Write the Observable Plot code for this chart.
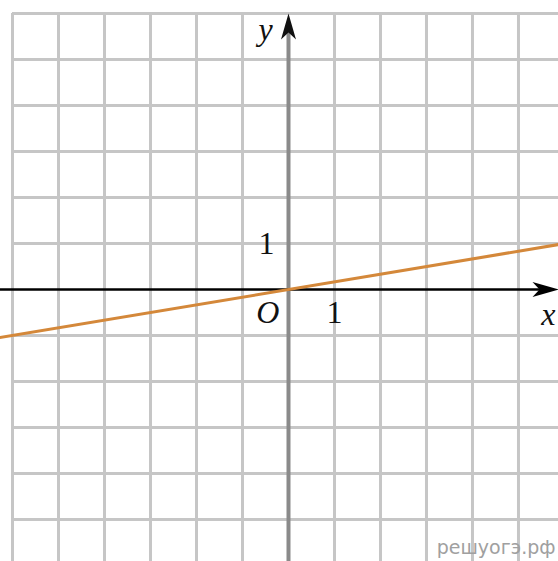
<!DOCTYPE html>
<html>
<head>
<meta charset="utf-8">
<script src="https://cdn.jsdelivr.net/npm/d3@7"></script>
<script src="https://cdn.jsdelivr.net/npm/@observablehq/plot@0.6"></script>
<style>
  html, body { margin: 0; padding: 0; background: #fff; }
  #chart svg { display: block; }
</style>
</head>
<body>
<div id="chart"></div>
<script>
// Grid values (units)
const gridX = [-6, -5, -4, -3, -2, -1, 1, 2, 3, 4, 5];
const gridY = [-5, -4, -3, -2, -1, 1, 2, 3, 4, 5, 6];
// Graph of y = x/6 (endpoints)
const lineX = [-6.3, 5.9];
const lineY = [-1.05, 0.983];
// Axis arrow tips
const xArrowTip = [5.87, 0];
const yArrowTip = [0, 6.0];
// Labels
const labels = [
  {x: -0.48, y: 1, text: "1", italic: false},
  {x: 1, y: -0.5, text: "1", italic: false},
  {x: -0.45, y: -0.5, text: "O", italic: true},
  {x: -0.5, y: 5.65, text: "y", italic: true},
  {x: 5.65, y: -0.55, text: "x", italic: true}
];
const watermark = "решуогэ.рф";

const xDomain = [-6.261, 5.870];
const yDomain = [-5.913, 6.283];
const linePts = lineX.map((x, i) => ({x, y: lineY[i]}));

const arrowSymbol = {
  draw(ctx) {
    ctx.moveTo(0, 0);
    ctx.lineTo(7.5, 26);
    ctx.lineTo(0, 19);
    ctx.lineTo(-7.5, 26);
    ctx.closePath();
  }
};

const chart = Plot.plot({
  width: 558,
  height: 561,
  margin: 0,
  x: {domain: xDomain, axis: null},
  y: {domain: yDomain, axis: null},
  marks: [
    Plot.ruleX(gridX, {y1: yDomain[0], y2: gridY[gridY.length - 1], stroke: "#c6c6c6", strokeWidth: 3}),
    Plot.ruleY(gridY, {x1: gridX[0], x2: xDomain[1], stroke: "#c6c6c6", strokeWidth: 3}),
    Plot.ruleX([0], {y1: yDomain[0], y2: 5.6, stroke: "#8a8a8a", strokeWidth: 4}),
    Plot.ruleY([0], {x1: xDomain[0], x2: 5.5, stroke: "#000", strokeWidth: 2.6}),
    Plot.dot([yArrowTip], {x: d => d[0], y: d => d[1], symbol: arrowSymbol, fill: "#111", stroke: "none", rotate: 0}),
    Plot.dot([xArrowTip], {x: d => d[0], y: d => d[1], symbol: arrowSymbol, fill: "#000", stroke: "none", rotate: 90}),
    Plot.line(linePts, {x: "x", y: "y", stroke: "#d4883a", strokeWidth: 3}),
    Plot.text(labels.filter(d => !d.italic), {x: "x", y: "y", text: "text", fontFamily: "Liberation Serif", fontSize: 32, fill: "#111"}),
    Plot.text(labels.filter(d => d.italic), {x: "x", y: "y", text: "text", fontFamily: "Liberation Serif", fontStyle: "italic", fontSize: 32, fill: "#111"}),
    Plot.text([watermark], {frameAnchor: "bottom-right", dx: -3, dy: -8, fontFamily: "DejaVu Sans", fontSize: 19, fill: "#a0a0a0"})
  ]
});
document.getElementById("chart").appendChild(chart);
</script>
</body>
</html>
